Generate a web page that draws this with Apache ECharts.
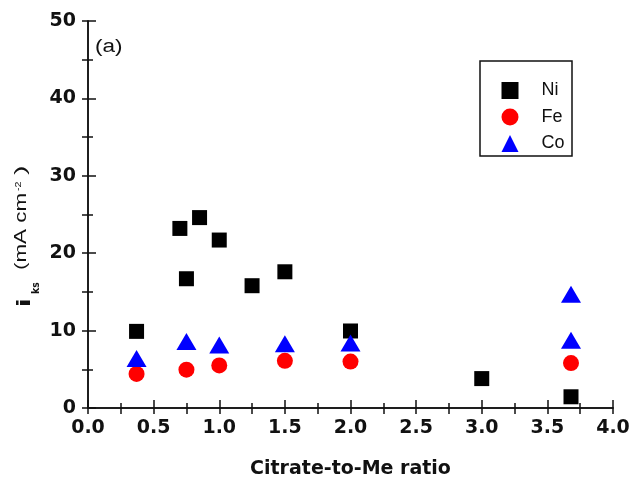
<!DOCTYPE html>
<html><head><meta charset="utf-8">
<script src="https://cdn.jsdelivr.net/npm/echarts@6/dist/echarts.min.js"></script>
<style>html,body{margin:0;padding:0;background:#fff}#c{width:630px;height:480px}</style>
</head><body><div id="c"></div>
<script>
var niX = [0.37, 0.70, 0.75, 0.85, 1.0, 1.25, 1.5, 2.0, 3.0, 3.68];
var niY = [9.9, 23.2, 16.7, 24.6, 21.7, 15.8, 17.6, 9.95, 3.8, 1.45];
var feX = [0.37, 0.75, 1.0, 1.5, 2.0, 3.68];
var feY = [4.4, 4.95, 5.5, 6.1, 6.0, 5.8];
var coX = [0.37, 0.75, 1.0, 1.5, 2.0, 3.68, 3.68];
var coY = [6.4, 8.6, 8.15, 8.3, 8.4, 8.75, 14.7];
var seriesNames = ['Ni', 'Fe', 'Co'];
var xTicks = {min: 0, max: 4, interval: 0.5};
var yTicks = {min: 0, max: 50, interval: 10};

function pairs(xs, ys){ return xs.map(function(x,i){ return [x, ys[i]]; }); }

var tickFont = {fontFamily: 'DejaVu Sans', fontWeight: 'bold', fontSize: 19, color: '#111'};
var axLine = {show: true, lineStyle: {color: '#111', width: 1.5}};

var chart = echarts.init(document.getElementById('c'), null, {renderer: 'canvas'});
chart.setOption({
  animation: false,
  backgroundColor: '#fff',
  grid: {left: 88, right: 17, top: 21, bottom: 72, containLabel: false, outerBoundsMode: 'none'},
  xAxis: [{
    type: 'value', min: xTicks.min, max: xTicks.max, interval: xTicks.interval,
    axisLine: axLine,
    axisTick: {show: true, inside: true, length: 8, lineStyle: {color: '#111', width: 1.5}},
    minorTick: {show: true, splitNumber: 2, length: 5, lineStyle: {color: '#111', width: 1.5}},
    splitLine: {show: false},
    axisLabel: Object.assign({margin: 11, formatter: function(v){ return v.toFixed(1); }}, tickFont),
    name: 'Citrate-to-Me ratio', nameLocation: 'middle', nameGap: 52,
    nameTextStyle: {fontFamily: 'DejaVu Sans', fontWeight: 'bold', fontSize: 19, color: '#111'}
  }, {
    type: 'value', position: 'top', min: xTicks.min, max: xTicks.max, interval: xTicks.interval,
    axisLine: axLine,
    axisTick: {show: true, inside: true, length: 6, lineStyle: {color: '#111', width: 1.5}},
    minorTick: {show: true, splitNumber: 2, length: 6, lineStyle: {color: '#111', width: 1.5}},
    splitLine: {show: false}, axisLabel: {show: false}
  }],
  yAxis: [{
    type: 'value', min: yTicks.min, max: yTicks.max, interval: yTicks.interval,
    axisLine: axLine,
    axisTick: {show: true, inside: true, length: 8, lineStyle: {color: '#111', width: 1.5}},
    minorTick: {show: true, splitNumber: 2, length: 5, lineStyle: {color: '#111', width: 1.5}},
    splitLine: {show: false},
    axisLabel: Object.assign({margin: 12}, tickFont)
  }, {
    type: 'value', position: 'right', min: yTicks.min, max: yTicks.max, interval: yTicks.interval,
    axisLine: axLine,
    axisTick: {show: true, inside: true, length: 6, lineStyle: {color: '#111', width: 1.5}},
    minorTick: {show: true, splitNumber: 2, length: 6, lineStyle: {color: '#111', width: 1.5}},
    splitLine: {show: false}, axisLabel: {show: false}
  }],
  legend: {
    orient: 'vertical', left: 501.5, top: 81.5, itemWidth: 17, itemHeight: 17, itemGap: 8.5,
    padding: 0,
    textStyle: {fontFamily: 'Liberation Sans', fontSize: 18, color: '#111', padding: [0, 0, 0, 18]},
    data: seriesNames
  },
  graphic: [
    {type: 'rect', shape: {x: 480, y: 61, width: 92, height: 95}, style: {fill: 'none', stroke: '#111', lineWidth: 1.5}, z: 10},
    {type: 'text', x: 95, y: 47.5, scaleX: 1.25, style: {text: '(a)', font: '18px "Liberation Sans"', fill: '#111', verticalAlign: 'middle'}},
    {type: 'group', x: 14, y: 307, rotation: Math.PI / 2, children: [
      {type: 'text', x: 0, y: 2, scaleX: 1.4, style: {text: 'i', font: 'bold 18px "DejaVu Sans"', fill: '#111', verticalAlign: 'top'}},
      {type: 'text', x: 13, y: 17, scaleX: 0.85, style: {text: 'ks', font: 'bold 11px "DejaVu Sans"', fill: '#111', verticalAlign: 'top'}},
      {type: 'text', x: 37, y: 0, scaleX: 1.4, style: {text: '(mA cm', font: '16px "Liberation Sans"', fill: '#111', verticalAlign: 'top'}},
      {type: 'text', x: 116, y: 0, scaleX: 1.2, style: {text: '-2', font: '9px "Liberation Sans"', fill: '#111', verticalAlign: 'top'}},
      {type: 'text', x: 132, y: 0, scaleX: 1.8, style: {text: ')', font: '16px "Liberation Sans"', fill: '#111', verticalAlign: 'top'}}
    ]}
  ],
  series: [
    {name: 'Ni', type: 'scatter', symbol: 'rect', symbolSize: 15, itemStyle: {color: '#000', opacity: 1}, data: pairs(niX, niY), z: 3},
    {name: 'Fe', type: 'scatter', symbol: 'circle', symbolSize: 16, itemStyle: {color: '#ff0000', opacity: 1}, data: pairs(feX, feY), z: 2},
    {name: 'Co', type: 'scatter', symbol: 'triangle', symbolSize: [20, 17], itemStyle: {color: '#0000ff', opacity: 1}, data: pairs(coX, coY), z: 4}
  ]
});
</script></body></html>
